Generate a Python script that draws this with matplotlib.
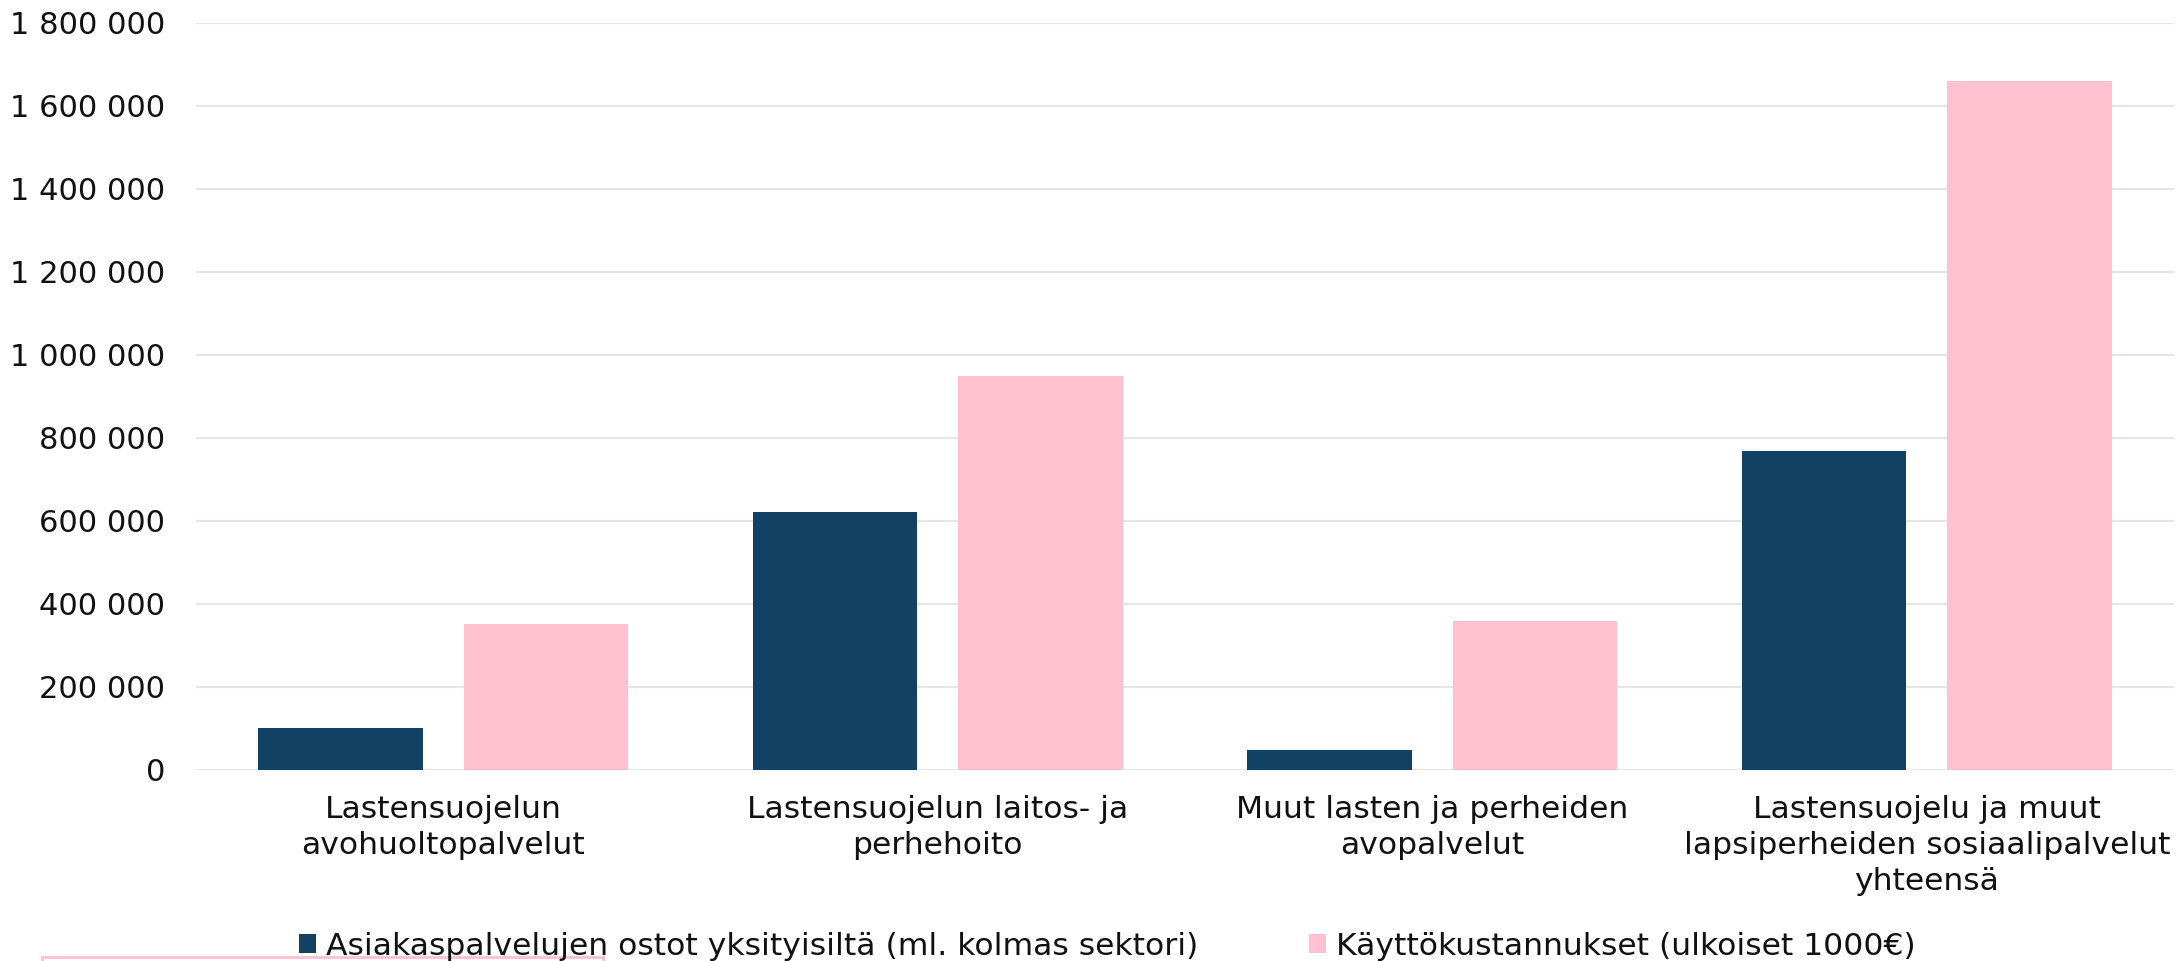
import matplotlib
matplotlib.use("Agg")
import matplotlib.pyplot as plt
import numpy as np
from matplotlib.patches import Rectangle, Patch
from matplotlib.ticker import FuncFormatter

categories = [
    "Lastensuojelun\navohuoltopalvelut",
    "Lastensuojelun laitos- ja\nperhehoito",
    "Muut lasten ja perheiden\navopalvelut",
    "Lastensuojelu ja muut\nlapsiperheiden sosiaalipalvelut\nyhteensä",
]
series_names = [
    "Asiakaspalvelujen ostot yksityisiltä (ml. kolmas sektori)",
    "Käyttökustannukset (ulkoiset 1000€)",
]
ostot = [100000, 620000, 46500, 766500]
kaytto = [349500, 949000, 359000, 1659500]
yticks = [0, 200000, 400000, 600000, 800000, 1000000, 1200000, 1400000, 1600000, 1800000]

BLUE = "#124263"
PINK = "#FFC0CF"
GRID = "#E6E6E6"
TXT = "#111111"
FS = 22.6

plt.rcParams['font.family'] = ['DejaVu Sans']

W, H = 2184, 961
fig = plt.figure(figsize=(W / 100, H / 100), dpi=100)
ax = fig.add_axes([196 / W, 1 - 769.5 / H, (2174 - 196) / W, (769.5 - 22.5) / H])

x = np.arange(len(categories))
bw = 0.333
off = 0.208
ax.bar(x - off, ostot, width=bw, color=BLUE, zorder=3)
ax.bar(x + off, kaytto, width=bw, color=PINK, zorder=3)

ax.set_xlim(-0.5, len(categories) - 0.5)
ax.set_ylim(0, 1800000)
ax.set_yticks(yticks)
ax.yaxis.set_major_formatter(FuncFormatter(lambda v, p: f"{int(v):,}".replace(",", " ")))
ax.set_xticks(x)
ax.set_xticklabels(categories, fontsize=FS, color=TXT, linespacing=1.32)
ax.tick_params(axis='x', length=0, pad=18)
ax.tick_params(axis='y', length=0, pad=22, labelsize=22, labelcolor=TXT)
ax.grid(axis='y', color=GRID, linewidth=1.6, zorder=0)
ax.set_axisbelow(True)
for s in ax.spines.values():
    s.set_visible(False)

# legend entries
ly = 1 - 946.5 / H
h1 = [Patch(facecolor=BLUE, edgecolor='none')]
h2 = [Patch(facecolor=PINK, edgecolor='none')]
for handles, name, xl in [(h1, series_names[0], 299 / W), (h2, series_names[1], 1309 / W)]:
    fig.legend(handles, [name], loc='center left', bbox_to_anchor=(xl, ly),
               frameon=False, fontsize=FS, handlelength=0.55, handleheight=0.55,
               handletextpad=0.3, borderpad=0, borderaxespad=0, labelcolor=TXT)

# cropped pink box at the bottom-left
fig.add_artist(Rectangle((42 / W, -0.02), (603 - 42) / W, 0.02 + (961 - 957) / H,
                         transform=fig.transFigure, fill=False, edgecolor=PINK,
                         linewidth=2))

fig.savefig("out.png", dpi=100, facecolor="white")
